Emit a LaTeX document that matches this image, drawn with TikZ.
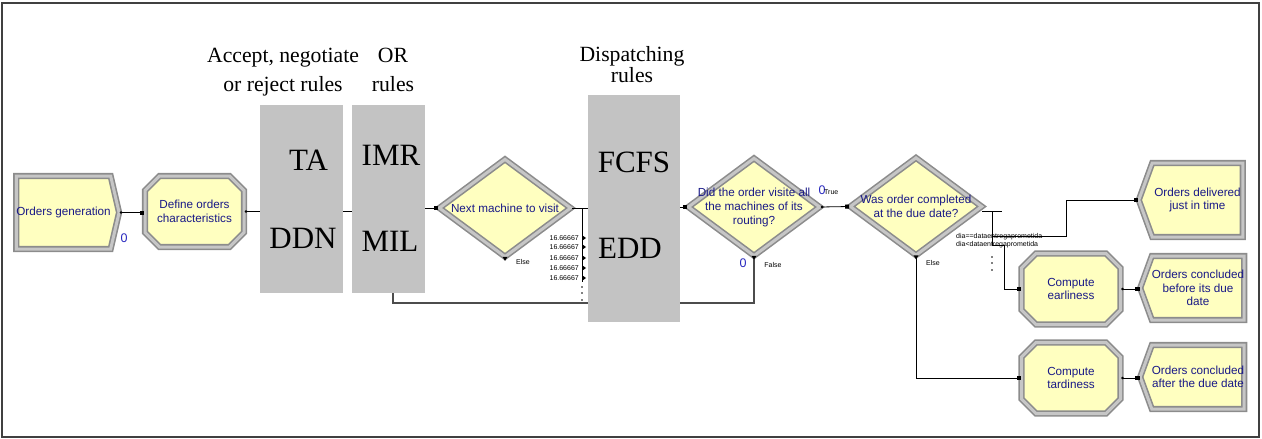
\documentclass[tikz,border=0pt]{standalone}
\usepackage{fontspec}
\setmainfont{Liberation Sans}
\newfontfamily\rulefont{Liberation Serif}
\usetikzlibrary{shapes.geometric,shapes.misc,shapes.symbols,arrows.meta,backgrounds}

\definecolor{modfill}{RGB}{255,255,192}
\definecolor{modtext}{RGB}{25,25,135}
\definecolor{rulegray}{RGB}{195,195,195}
\definecolor{zeroblue}{RGB}{40,40,190}

\tikzset{
  module/.style={draw=gray!90, double=gray!45, double distance=3pt, line width=1.6pt,
    fill=modfill, text=modtext, align=center, inner sep=0pt,
    font=\fontsize{11.7}{13.5}\selectfont},
  create/.style={module, signal, signal to=east, signal pointer angle=154,
    minimum width=98pt, minimum height=73pt},
  process/.style={module, chamfered rectangle, chamfered rectangle xsep=11pt,
    minimum width=99pt, minimum height=71pt},
  decide/.style={module, diamond, minimum width=132pt, minimum height=98pt},
  dispose/.style={module, signal, signal to=west, signal pointer angle=140,
    minimum width=104pt, minimum height=64pt},
  dtext/.style={text=modtext, align=center, inner sep=0pt,
    font=\fontsize{11.7}{14}\selectfont},
  rulebox/.style={fill=rulegray, inner sep=0pt},
  ruletxt/.style={font=\rulefont\fontsize{31}{31}\selectfont, inner sep=0pt},
  rulehead/.style={font=\rulefont\fontsize{21.7}{29}\selectfont, align=center, inner sep=0pt},
  smalltxt/.style={font=\fontsize{7}{8}\selectfont, inner sep=0pt},
  zero/.style={font=\fontsize{12.5}{12.5}\selectfont, text=zeroblue, inner sep=0pt},
  link/.style={draw=black, line width=0.8pt},
  conn/.style={link, {Circle[length=2.4pt]}-{Square[length=4pt,width=4pt]}},
  sq/.style={link, -{Square[length=4pt,width=4pt]}},
  loopline/.style={draw=black!70, line width=1.1pt}
}

\begin{document}
\begin{tikzpicture}[x=1pt,y=-1pt]
\useasboundingbox (0,0) rectangle (1262,439);
\draw[line width=2pt, draw=black!75] (2,3) rectangle (1259,437);

% rule columns
\node[rulebox, minimum width=83pt, minimum height=188pt] (accbox) at (301.5,199) {};
\node[rulebox, minimum width=73pt, minimum height=188pt] (orbox) at (388.5,199) {};
\node[rulebox, minimum width=92pt, minimum height=227pt] (dispbox) at (634,208.5) {};

\node[rulehead] (acchead) at (283,72.5) {Accept, negotiate\\or reject rules};
\node[rulehead] (orhead) at (393,70) {OR\\rules};
\node[rulehead, font=\rulefont\fontsize{21.7}{17}\selectfont] (disphead) at (632,64.5) {Dispatching\\rules};

\node[ruletxt] (ta) at (308.5,160) {TA};
\node[ruletxt] (ddn) at (303,238.5) {DDN};
\node[ruletxt] (imr) at (391,155) {IMR};
\node[ruletxt] (mil) at (390,241.5) {MIL};
\node[ruletxt] (fcfs) at (634,162) {FCFS};
\node[ruletxt] (edd) at (630,248.5) {EDD};

% modules
\node[create] (gen) at (63.5,212.5) {Orders generation};
\node[process] (def) at (194.5,211.5) {Define orders\\characteristics};
\node[decide, label={[dtext]center:Next machine to visit}] (next) at (505,208) {};
\node[decide, label={[dtext]center:{Did the order visite all\\the machines of its\\routing?}}] (visited) at (754,207) {};
\node[decide, label={[dtext]center:{Was order completed\\at the due date?}}] (ontime) at (916,206.5) {};
\node[process] (early) at (1071,289) {Compute\\earliness};
\node[process] (late) at (1071,378) {Compute\\tardiness};
\node[dispose, minimum height=74pt] (delivered) at (1197.5,200) {Orders delivered\\just in time};
\node[dispose] (before) at (1198,288) {Orders concluded\\before its due\\date};
\node[dispose] (after) at (1198,377) {Orders concluded\\after the due date};

% connectors
\draw[conn] (gen.east) -- (gen.east -| def.west);
\draw[link, {Circle[length=2.4pt]}-] (def.east) -- (def.east -| accbox.west);
\draw[link] (def.east -| accbox.east) -- (def.east -| orbox.west);
\draw[sq] (orbox.east |- next.west) -- (next.west);

\draw[link] (next.east) -- (next.east -| dispbox.west);
\coordinate (fork) at (582,208);
\draw[link] (fork) -- (582,282);
\foreach \yy/\nm in {238/a,247/b,258/c,268/d,278/e}{
  \node[smalltxt, anchor=east] (p\nm) at (579,\yy) {16.66667};
  \fill (582.5,\yy) ++(0,-2.5) -- ++(3.5,2.5) -- ++(-3.5,2.5) -- cycle;
}
\foreach \yy in {287,293,300} \fill (582,\yy) circle (0.9pt);

\begin{scope}[on background layer]
  \coordinate (loopy) at (0,303);
  \draw[loopline] (visited.south) -- (visited.south |- loopy)
    -- ([xshift=4.5pt]orbox.south |- loopy) -- ([xshift=4.5pt]orbox.south);
\end{scope}

\draw[sq] (dispbox.east |- visited.west) -- (visited.west);
\draw[conn] (visited.east) -- (ontime.west);

\coordinate (split) at (992,211);
\draw[link] (split) ++(-10,0) -- ++(20,0);
\draw[link] (split) -- (992,245);
\foreach \yy in {257,263,270} \fill (992,\yy) circle (0.9pt);
\coordinate (br1) at (992,236);
\coordinate (br2) at (992,245);
\draw[sq] (br1) -| ([xshift=-72pt]delivered.west) -- (delivered.west);
\draw[sq] (br2) -- ++(12,0) |- (early.west);
\draw[sq] (ontime.south) |- (late.west);

\draw[conn] (early.east) -- (early.east -| before.west);
\draw[conn] (late.east) -- (late.east -| after.west);

\foreach \d in {next,visited,ontime}
  \fill (\d.south) ++(-2.5,-1) -- ++(5,0) -- ++(-2.5,4) -- cycle;

% labels
\node[zero] (z1) at (124,238) {0};
\node[smalltxt] (e1) at (523,262) {Else};
\node[zero] (z2) at (743,263) {0};
\node[smalltxt] (f2) at (773,265) {False};
\node[zero] (z3) at (822,190) {0};
\node[smalltxt, anchor=west] (t2) at (824,192) {True};
\node[smalltxt] (e3) at (933,263) {Else};
\node[smalltxt, anchor=west] (c1) at (956,237) {dia==dataentregaprometida};
\node[smalltxt, anchor=west] (c2) at (956,245) {dia<dataentregaprometida};
\end{tikzpicture}
\end{document}
